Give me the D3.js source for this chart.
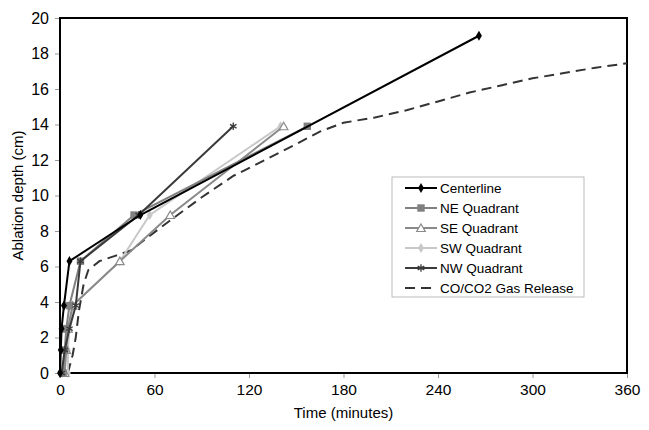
<!DOCTYPE html>
<html>
<head>
<meta charset="utf-8">
<script src="https://cdn.jsdelivr.net/npm/d3@7"></script>
<style>
  body { margin: 0; background: #fff; }
  text { font-family: "Liberation Sans", Arial, sans-serif; }
</style>
</head>
<body>
<div class="chart"></div>
<script>
var w = 649,
  h = 430,
  margin = { top: 18, right: 22, bottom: 57, left: 60 };

// depths (cm) and times (minutes)
var centerlineT = [0, 0.5, 1, 2.5, 6, 51, 266],
  centerlineD = [0, 1.3, 2.5, 3.8, 6.3, 8.9, 19];
var neT = [2, 3, 4, 6, 13, 47, 157],
  neD = [0, 1.3, 2.5, 3.8, 6.3, 8.9, 13.9];
var seT = [3, 4, 5, 8, 38, 70, 142],
  seD = [0, 1.3, 2.5, 3.8, 6.3, 8.9, 13.9];
var swT = [5, 5, 6, 8, 38, 57, 140],
  swD = [0, 1.3, 2.5, 3.8, 6.3, 8.9, 13.9];
var nwT = [1, 3, 6, 10, 13, 50, 110],
  nwD = [0, 1.3, 2.5, 3.8, 6.3, 8.9, 13.9];
var gasT = [5, 8, 10, 12, 15, 18, 25, 35, 45, 55, 70, 90, 110, 130, 150, 165, 180, 200, 220, 240, 260, 280, 300, 320, 340, 360],
  gasD = [0, 1, 2, 3.5, 5, 5.8, 6.3, 6.6, 6.9, 7.6, 8.6, 9.9, 11.1, 12, 12.9, 13.6, 14.1, 14.4, 14.8, 15.3, 15.8, 16.2, 16.6, 16.9, 17.2, 17.45];

var xTicks = [0, 60, 120, 180, 240, 300, 360],
  yTicks = [0, 2, 4, 6, 8, 10, 12, 14, 16, 18, 20];

var series = [
  { name: 'Centerline', t: centerlineT, d: centerlineD, color: '#000', marker: 'diamond', fill: '#000' },
  { name: 'NE Quadrant', t: neT, d: neD, color: '#808080', marker: 'square', fill: '#808080' },
  { name: 'SE Quadrant', t: seT, d: seD, color: '#8a8a8a', marker: 'triangle', fill: '#fff' },
  { name: 'SW Quadrant', t: swT, d: swD, color: '#c8c8c8', marker: 'diamond', fill: '#c8c8c8' },
  { name: 'NW Quadrant', t: nwT, d: nwD, color: '#3a3a3a', marker: 'star', fill: 'none' },
  { name: 'CO/CO2 Gas Release', t: gasT, d: gasD, color: '#333', marker: null, dash: '10,6' }
];

var x = d3.scaleLinear().domain([0, 360]).range([margin.left, w - margin.right]);
var y = d3.scaleLinear().domain([0, 20]).range([h - margin.bottom, margin.top]);

var svg = d3.select('.chart')
  .append('svg')
  .attr('width', w)
  .attr('height', h);

// axes
svg.append('g')
  .attr('transform', 'translate(0,' + y(0) + ')')
  .call(d3.axisBottom(x).tickValues(xTicks).tickSize(5).tickPadding(6))
  .call(function (g) {
    g.select('.domain').remove();
    g.selectAll('line').attr('stroke', '#999');
    g.selectAll('text').attr('font-size', 15.5).attr('fill', '#000');
  });

svg.append('g')
  .attr('transform', 'translate(' + x(0) + ',0)')
  .call(d3.axisLeft(y).tickValues(yTicks).tickSize(5).tickPadding(6))
  .call(function (g) {
    g.select('.domain').remove();
    g.selectAll('line').attr('stroke', '#999');
    g.selectAll('text').attr('font-size', 16).attr('fill', '#000');
  });

// plot frame
svg.append('rect')
  .attr('x', x(0))
  .attr('y', y(20))
  .attr('width', x(360) - x(0))
  .attr('height', y(0) - y(20))
  .attr('fill', 'none')
  .attr('stroke', '#000')
  .attr('stroke-width', 2);

var line = d3.line()
  .x(function (p) { return x(p[0]); })
  .y(function (p) { return y(p[1]); });

var drawMarker = function (g, type, color, fill, px, py) {
  if (type === 'diamond') {
    g.append('path').attr('d', d3.symbol().type(d3.symbolDiamond).size(30)())
      .attr('transform', 'translate(' + px + ',' + py + ')')
      .attr('fill', fill);
  } else if (type === 'square') {
    g.append('path').attr('d', d3.symbol().type(d3.symbolSquare).size(55)())
      .attr('transform', 'translate(' + px + ',' + py + ')')
      .attr('fill', fill);
  } else if (type === 'triangle') {
    g.append('path').attr('d', d3.symbol().type(d3.symbolTriangle).size(32)())
      .attr('transform', 'translate(' + px + ',' + (py + 1) + ')')
      .attr('fill', fill).attr('stroke', color).attr('stroke-width', 1.2);
  } else if (type === 'star') {
    g.append('path').attr('d', d3.symbol().type(d3.symbolAsterisk).size(40)())
      .attr('transform', 'translate(' + px + ',' + py + ')')
      .attr('fill', 'none').attr('stroke', color).attr('stroke-width', 1.3);
  }
};

// series, gas release drawn first so it sits under the measured lines
[5, 3, 2, 1, 4, 0].forEach(function (i) {
  var s = series[i];
  var pts = s.t.map(function (t, j) { return [t, s.d[j]]; });
  var g = svg.append('g');
  g.append('path')
    .attr('d', line(pts))
    .attr('fill', 'none')
    .attr('stroke', s.color)
    .attr('stroke-width', 2)
    .attr('stroke-dasharray', s.dash || null);
  if (s.marker) {
    pts.forEach(function (p) {
      drawMarker(g, s.marker, s.color, s.fill, x(p[0]), y(p[1]));
    });
  }
});

// legend
var lg = svg.append('g').attr('transform', 'translate(392,177)');
lg.append('rect')
  .attr('width', 192).attr('height', 120)
  .attr('fill', '#fff').attr('stroke', '#bbb').attr('stroke-width', 1);
series.forEach(function (s, i) {
  var ly = 11 + i * 20;
  lg.append('line')
    .attr('x1', 13).attr('x2', 45).attr('y1', ly).attr('y2', ly)
    .attr('stroke', s.color).attr('stroke-width', 2)
    .attr('stroke-dasharray', s.dash || null);
  if (s.marker) drawMarker(lg, s.marker, s.color, s.fill, 29, ly);
  lg.append('text')
    .attr('x', 48).attr('y', ly + 5)
    .attr('font-size', 13.5)
    .text(s.name);
});

// axis titles
svg.append('text')
  .attr('x', x(180)).attr('y', 418)
  .attr('text-anchor', 'middle')
  .attr('font-size', 15)
  .text('Time (minutes)');

svg.append('text')
  .attr('transform', 'translate(23,' + y(10) + ') rotate(-90)')
  .attr('text-anchor', 'middle')
  .attr('font-size', 15)
  .text('Ablation depth (cm)');
</script>
</body>
</html>
